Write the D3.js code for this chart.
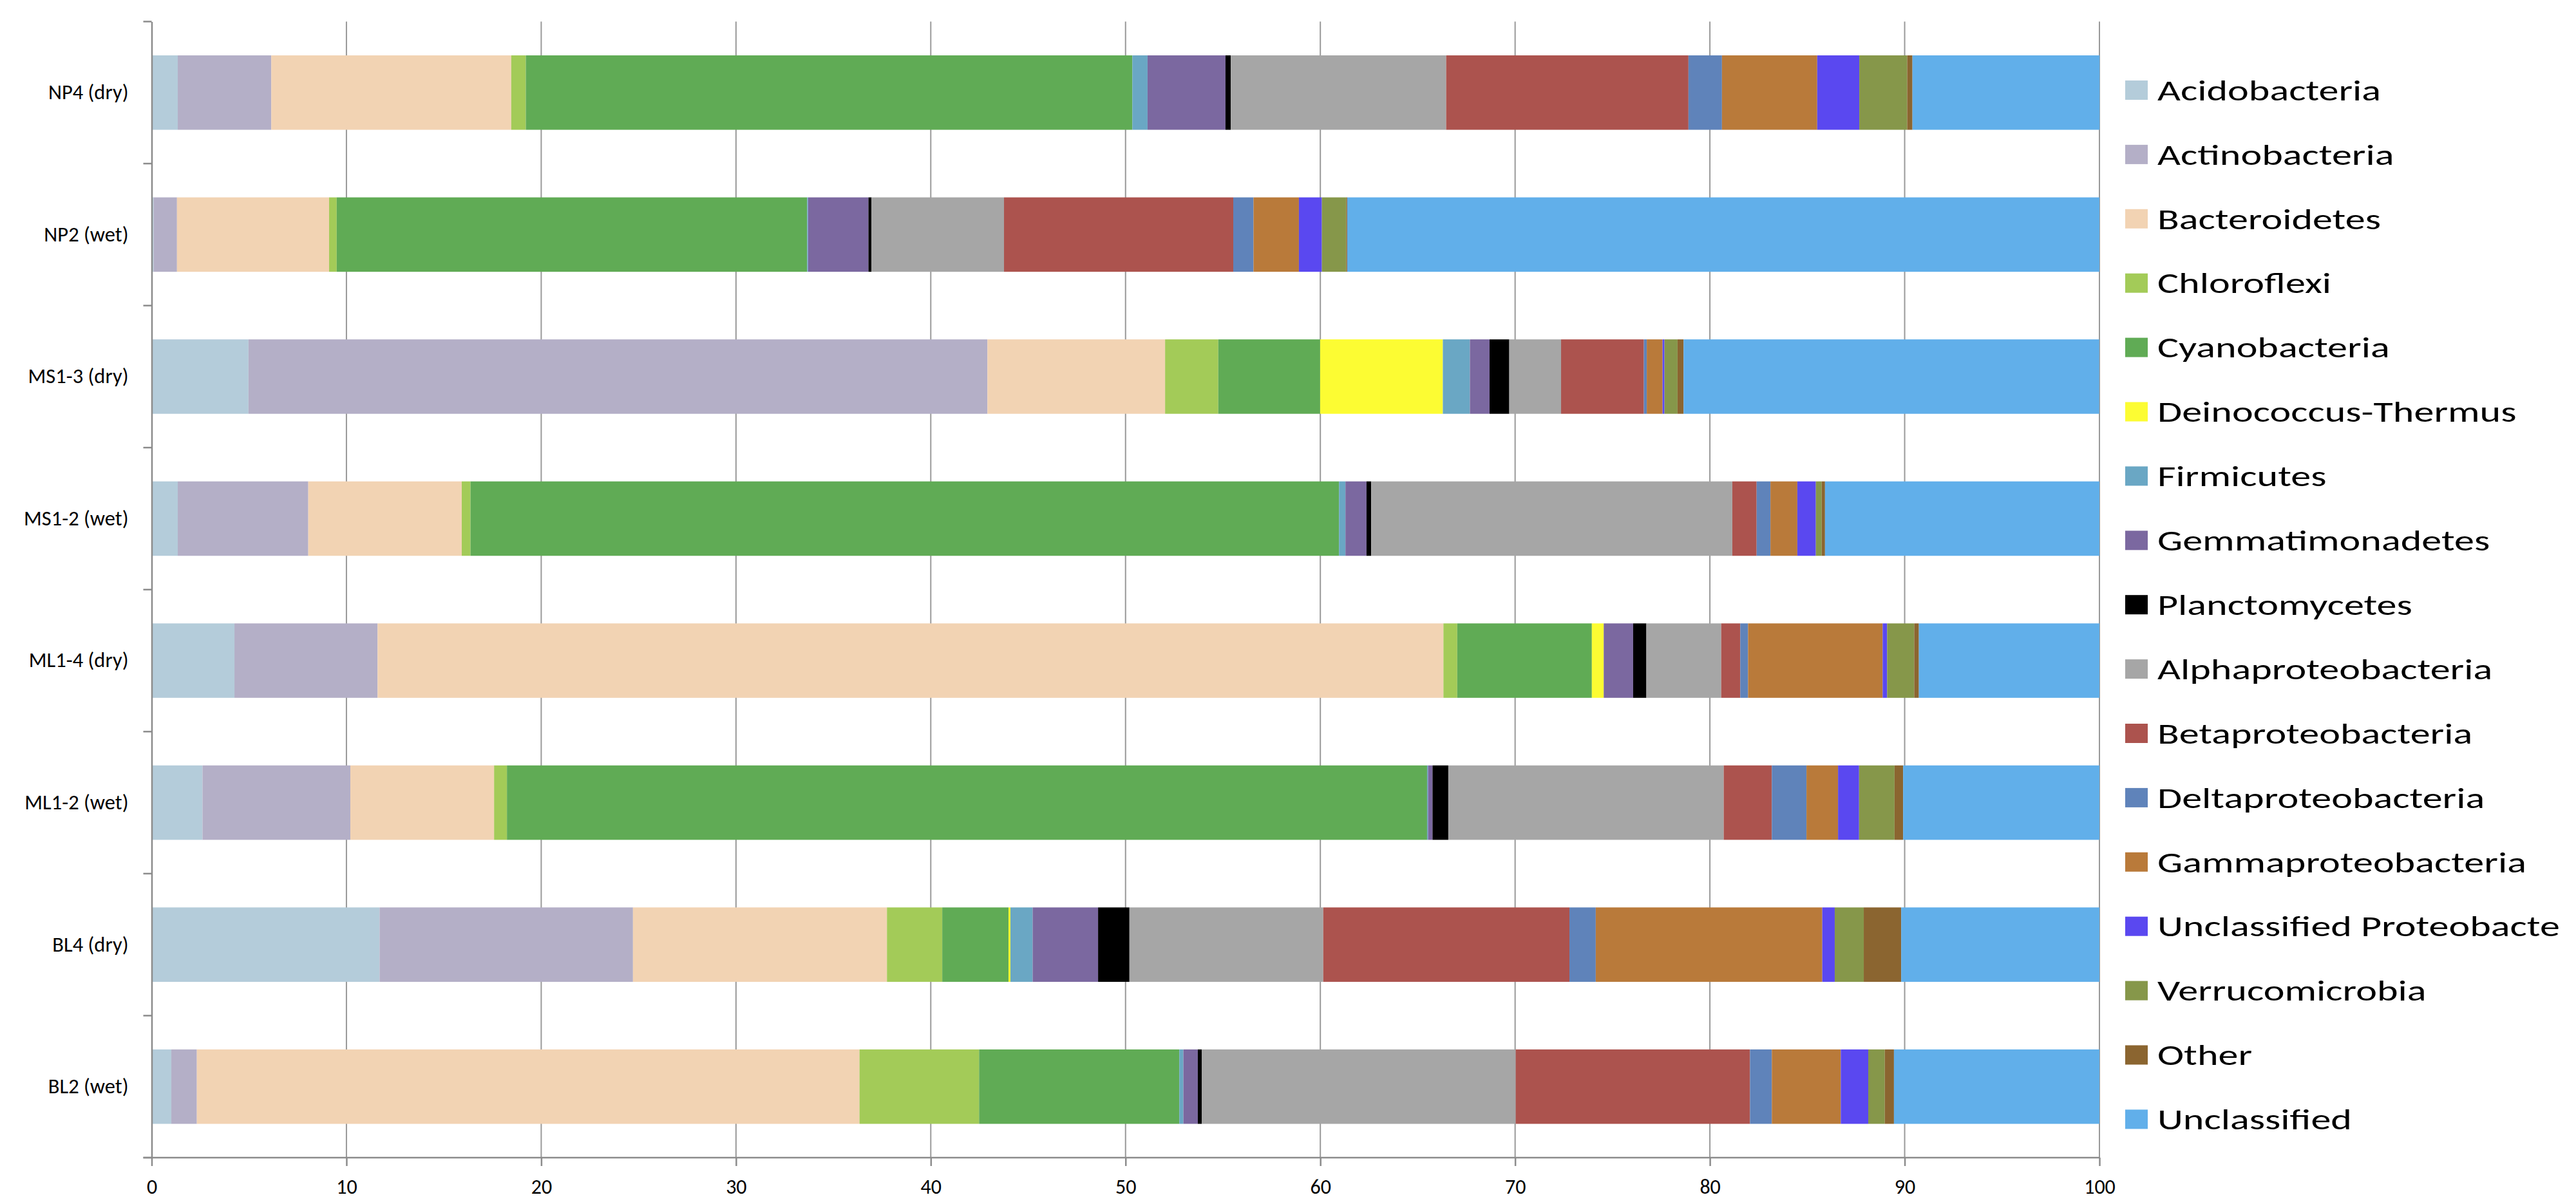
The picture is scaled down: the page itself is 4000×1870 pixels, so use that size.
<!DOCTYPE html>
<html>
<head>
<meta charset="utf-8">
<script src="https://cdn.jsdelivr.net/npm/d3@7"></script>
<style>
  body { margin: 0; background: #fff; }
  text { font-family: Carlito, Lato, "Open Sans", sans-serif; fill: #000; }
</style>
</head>
<body>
<div id="chart-area"></div>
<script>
// samples, top to bottom
var samples = ["NP4 (dry)", "NP2 (wet)", "MS1-3 (dry)", "MS1-2 (wet)", "ML1-4 (dry)", "ML1-2 (wet)", "BL4 (dry)", "BL2 (wet)"];

// relative abundance (%) per phylum, same order as samples
var acidobacteria       = [1.34, 0.10, 4.97, 1.34, 4.25, 2.61, 11.70, 1.01];
var actinobacteria      = [4.80, 1.20, 37.94, 6.70, 7.35, 7.59, 13.01, 1.31];
var bacteroidetes       = [12.32, 7.81, 9.12, 7.88, 54.72, 7.38, 13.04, 34.02];
var chloroflexi         = [0.75, 0.39, 2.73, 0.45, 0.71, 0.66, 2.84, 6.14];
var cyanobacteria       = [31.14, 24.15, 5.23, 44.59, 6.91, 47.24, 3.40, 10.28];
var deinococcus         = [0, 0, 6.30, 0, 0.61, 0, 0.10, 0];
var firmicutes          = [0.78, 0.05, 1.39, 0.33, 0, 0.05, 1.14, 0.21];
var gemmatimonadetes    = [4.00, 3.10, 1.01, 1.08, 1.51, 0.23, 3.36, 0.74];
var planctomycetes      = [0.27, 0.16, 1.01, 0.24, 0.68, 0.81, 1.61, 0.20];
var alphaproteobacteria = [11.06, 6.80, 2.66, 18.54, 3.84, 14.14, 9.95, 16.12];
var betaproteobacteria  = [12.44, 11.77, 4.25, 1.25, 0.98, 2.47, 12.64, 12.03];
var deltaproteobacteria = [1.72, 1.04, 0.15, 0.71, 0.40, 1.78, 1.35, 1.12];
var gammaproteobacteria = [4.89, 2.33, 0.81, 1.38, 6.91, 1.62, 11.63, 3.54];
var unclProteobacteria  = [2.16, 1.18, 0.10, 0.95, 0.23, 1.08, 0.64, 1.41];
var verrucomicrobia     = [2.46, 1.25, 0.67, 0.30, 1.39, 1.82, 1.49, 0.85];
var other               = [0.27, 0.05, 0.31, 0.17, 0.24, 0.44, 1.92, 0.47];
var unclassified        = [9.61, 38.62, 21.34, 14.09, 9.27, 10.08, 10.18, 10.55];

var seriesNames = ["Acidobacteria", "Actinobacteria", "Bacteroidetes", "Chloroflexi", "Cyanobacteria",
    "Deinococcus-Thermus", "Firmicutes", "Gemmatimonadetes", "Planctomycetes", "Alphaproteobacteria",
    "Betaproteobacteria", "Deltaproteobacteria", "Gammaproteobacteria", "Unclassified Proteobacte",
    "Verrucomicrobia", "Other", "Unclassified"];
var seriesValues = [acidobacteria, actinobacteria, bacteroidetes, chloroflexi, cyanobacteria,
    deinococcus, firmicutes, gemmatimonadetes, planctomycetes, alphaproteobacteria,
    betaproteobacteria, deltaproteobacteria, gammaproteobacteria, unclProteobacteria,
    verrucomicrobia, other, unclassified];
var colors = ["#b4ccda", "#b4afc7", "#f2d3b3", "#a3cb58", "#60ab55", "#fcfc33", "#6aa7c4", "#7b68a0",
    "#000000", "#a6a6a6", "#ac534e", "#5f83ba", "#b97a3a", "#5a48f0", "#86974a", "#8b6530", "#61afea"];

var xTicks = [0, 10, 20, 30, 40, 50, 60, 70, 80, 90, 100];

var W = 4000, H = 1870;
var margin = { left: 235.5, right: 3260, top: 33.5, bottom: 1798 };

var svg = d3.select("#chart-area")
    .append("svg")
        .attr("width", W)
        .attr("height", H);

svg.append("rect").attr("width", W).attr("height", H).attr("fill", "#fff");

// build table for the stack
var table = samples.map(function(s, i) {
    var row = { sample: s };
    seriesNames.forEach(function(n, k) { row[n] = seriesValues[k][i]; });
    return row;
});
var stacked = d3.stack().keys(seriesNames)(table);

// scales
var x = d3.scaleLinear()
    .domain([0, 100])
    .range([margin.left, margin.right]);

var y = d3.scaleBand()
    .domain(samples)
    .range([margin.top, margin.bottom])
    .paddingInner(0.476)
    .paddingOuter(0.238);

var color = d3.scaleOrdinal()
    .domain(seriesNames)
    .range(colors);

// vertical gridlines
svg.append("g")
    .selectAll("line")
    .data(xTicks.slice(1))
    .enter()
    .append("line")
        .attr("x1", function(d) { return x(d); })
        .attr("x2", function(d) { return x(d); })
        .attr("y1", margin.top)
        .attr("y2", margin.bottom)
        .attr("stroke", "#999")
        .attr("stroke-width", 2);

// bars
svg.append("g")
    .selectAll("g")
    .data(stacked)
    .enter()
    .append("g")
        .attr("fill", function(d) { return color(d.key); })
    .selectAll("rect")
    .data(function(d) { return d; })
    .enter()
    .append("rect")
        .attr("x", function(d) { return x(d[0]); })
        .attr("y", function(d) { return y(d.data.sample); })
        .attr("width", function(d) { return Math.max(0, x(d[1]) - x(d[0])); })
        .attr("height", y.bandwidth());

// X Axis
var xAxisCall = d3.axisBottom(x)
    .tickValues(xTicks)
    .tickSize(13)
    .tickSizeOuter(0)
    .tickPadding(20);
var xAxis = svg.append("g")
    .attr("class", "x axis")
    .attr("transform", "translate(0," + margin.bottom + ")")
    .call(xAxisCall);
xAxis.selectAll("text")
    .attr("font-size", "32px")
    .attr("font-family", "Carlito, Lato, sans-serif")
    .attr("fill", "#000");

// Y Axis: ticks sit on the band boundaries
var yAxisCall = d3.axisLeft(y)
    .tickSize(0)
    .tickPadding(36);
var yAxis = svg.append("g")
    .attr("class", "y axis")
    .attr("transform", "translate(" + margin.left + ",0)")
    .call(yAxisCall);
yAxis.selectAll("text")
    .attr("font-size", "32.5px")
    .attr("font-family", "Carlito, Lato, sans-serif")
    .attr("fill", "#000");
var bounds = samples.map(function(s) { return y(s) - y.step() * y.paddingInner() / 2; })
    .concat([margin.bottom]);
yAxis.selectAll(".bound")
    .data(bounds)
    .enter()
    .append("line")
        .attr("class", "bound")
        .attr("x1", -13)
        .attr("x2", 0)
        .attr("y1", function(d) { return d; })
        .attr("y2", function(d) { return d; });

svg.selectAll(".axis path, .axis line")
    .attr("stroke", "#8c8c8c")
    .attr("stroke-width", 2.5);
xAxis.select(".domain").attr("d", "M" + (margin.left - 13) + ",0H" + margin.right);

// Legend
var legend = svg.append("g")
    .attr("transform", "translate(3300,140)");

var item = legend.selectAll("g")
    .data(seriesNames)
    .enter()
    .append("g")
        .attr("transform", function(d, i) { return "translate(0," + (i * 99.9) + ")"; });

item.append("rect")
    .attr("x", 0)
    .attr("y", -15)
    .attr("width", 35)
    .attr("height", 30)
    .attr("fill", function(d) { return color(d); });

item.append("text")
    .attr("transform", "translate(50,0) scale(1.38,1)")
    .attr("dy", "0.35em")
    .attr("font-size", "45px")
    .text(function(d) { return d; });
</script>
</body>
</html>
